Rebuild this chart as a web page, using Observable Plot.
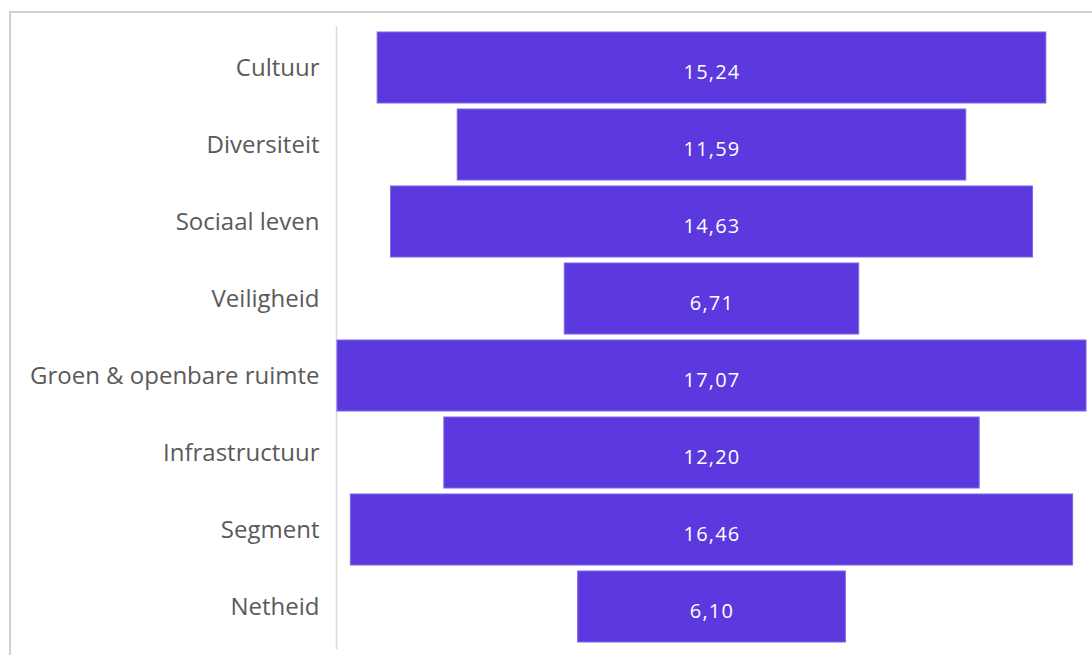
<!DOCTYPE html>
<html>
<head>
<meta charset="utf-8">
<script src="https://cdn.jsdelivr.net/npm/d3@7"></script>
<script src="https://cdn.jsdelivr.net/npm/@observablehq/plot@0.6"></script>
<style>
  html, body { margin: 0; padding: 0; background: #fff; }
  #wrap { position: relative; width: 1092px; height: 655px; overflow: hidden; }
  #frame { position: absolute; left: 9px; top: 11px; width: 1200px; height: 800px;
           border-top: 2px solid #d0d0d0; border-left: 2px solid #d0d0d0; pointer-events: none; }
  #chart { position: absolute; left: 0; top: 0; }
  #chart g[aria-label="text"] text { letter-spacing: 1.2px; }
</style>
</head>
<body>
<div id="wrap"><div id="frame"></div><div id="chart"></div></div>
<script>
const categories = ["Cultuur", "Diversiteit", "Sociaal leven", "Veiligheid", "Groen & openbare ruimte", "Infrastructuur", "Segment", "Netheid"];
const values = [15.24, 11.59, 14.63, 6.71, 17.07, 12.20, 16.46, 6.10];

const data = categories.map((c, i) => ({category: c, value: values[i]}));
const half = d3.max(values) / 2;
const fmt = v => v.toFixed(2).replace(".", ",");

const plot = Plot.plot({
  width: 1092,
  height: 655,
  marginLeft: 337,
  marginRight: 6,
  marginTop: 30,
  marginBottom: 12,
  style: {fontFamily: "'Open Sans', sans-serif", background: "transparent"},
  x: {domain: [-half, half], axis: null},
  y: {domain: categories, paddingInner: 0.08, paddingOuter: 0, label: null},
  marks: [
    Plot.ruleX([-half], {dx: -1, stroke: "#d9d9d9", strokeWidth: 1.5, insetTop: -4, insetBottom: -6}),
    Plot.barX(data, {y: "category", x1: d => -d.value / 2, x2: d => d.value / 2, fill: "#5c38df", stroke: "#7f64e8", strokeWidth: 1}),
    Plot.text(data, {y: "category", x: 0, text: d => fmt(d.value), fill: "white", fontSize: 20, dy: 5}),
    Plot.axisY({tickSize: 0, tickPadding: 18, fontSize: 24, color: "#5a5a5a", label: null})
  ]
});
document.getElementById("chart").appendChild(plot);
</script>
</body>
</html>
